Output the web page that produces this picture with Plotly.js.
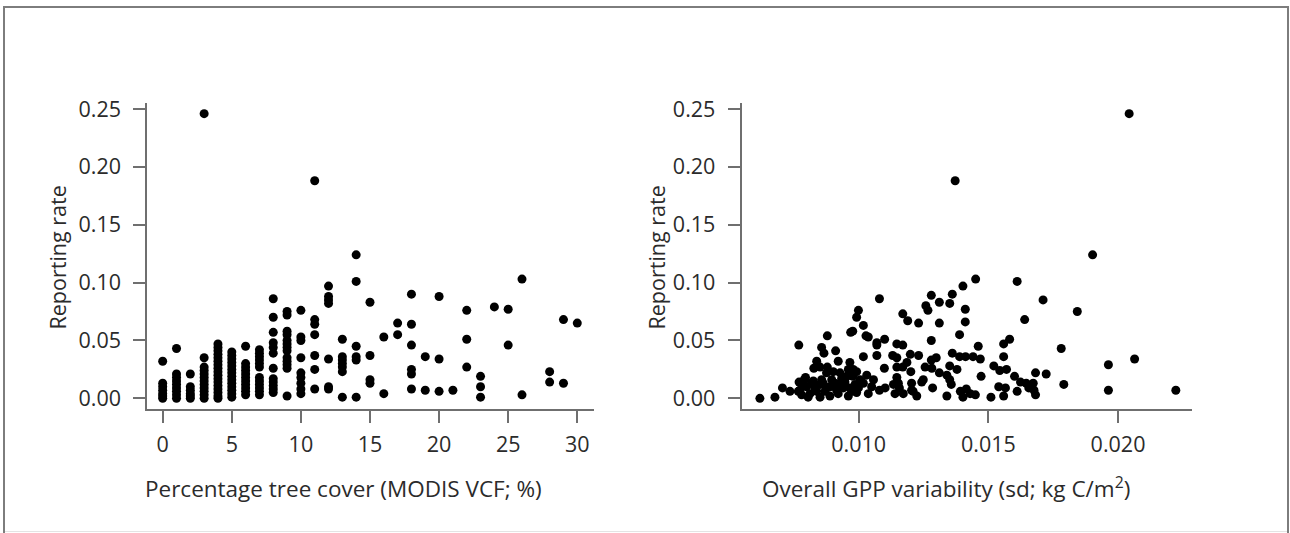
<!DOCTYPE html>
<html>
<head>
<meta charset="utf-8">
<script src="https://cdn.plot.ly/plotly-3.0.1.min.js"></script>
<style>
  html, body { margin: 0; padding: 0; background: #ffffff; overflow: hidden; }
  #wrap { position: relative; width: 1290px; height: 533px; }
  #chart { position: absolute; left: 0; top: 0; width: 1290px; height: 533px; }
  #frame { position: absolute; left: 3px; top: 6px; width: 1282px; height: 560px;
           border: 2px solid #7d7d7d; border-bottom: none; pointer-events: none; }
  #foot { position: absolute; left: 5px; top: 531px; width: 1282px; height: 1px;
          background: #e4e4e4; pointer-events: none; }
</style>
</head>
<body>
<div id="wrap">
  <div id="chart"></div>
  <div id="frame"></div>
  <div id="foot"></div>
</div>
<script>
// ---- Panel A: percentage tree cover vs reporting rate ----
const treeCover = [
  0,0,0,0,0,0,0,
  1,1,1,1,1,1,1,1,1,
  2,2,2,2,2,2,
  3,3,3,3,3,3,3,3,3,3,3,3,
  4,4,4,4,4,4,4,4,4,4,4,4,4,4,4,4,4,
  5,5,5,5,5,5,5,5,5,5,5,5,5,5,
  6,6,6,6,6,6,6,6,6,6,6,
  7,7,7,7,7,7,7,7,7,7,7,7,
  8,8,8,8,8,8,8,8,8,8,8,8,
  9,9,9,9,9,9,9,9,9,9,9,9,9,
  10,10,10,10,10,10,10,10,10,
  11,11,11,11,11,11,11,
  12,12,12,12,12,12,12,
  13,13,13,13,13,13,13,
  14,14,14,14,14,14,
  15,15,15,15,
  16,16,
  17,17,
  18,18,18,18,18,18,
  19,19,
  20,20,20,
  21,
  22,22,22,
  23,23,23,
  24,
  25,25,
  26,26,
  28,28,
  29,29,
  30
];
const rateTree = [
  0.032,0.013,0.010,0.007,0.004,0.002,0.000,
  0.043,0.021,0.018,0.015,0.012,0.009,0.006,0.003,0.000,
  0.021,0.010,0.007,0.004,0.002,0.000,
  0.246,0.035,0.027,0.024,0.021,0.018,0.015,0.012,0.009,0.006,0.003,0.000,
  0.047,0.044,0.041,0.038,0.035,0.032,0.029,0.026,0.023,0.020,0.017,0.014,0.011,0.008,0.005,0.002,0.000,
  0.040,0.037,0.034,0.031,0.028,0.025,0.022,0.019,0.016,0.013,0.010,0.007,0.004,0.001,
  0.045,0.030,0.027,0.024,0.021,0.018,0.015,0.012,0.009,0.006,0.003,
  0.042,0.039,0.036,0.033,0.030,0.027,0.018,0.015,0.012,0.009,0.006,0.003,
  0.086,0.070,0.057,0.048,0.044,0.039,0.026,0.017,0.014,0.011,0.008,0.005,
  0.075,0.072,0.058,0.055,0.050,0.047,0.044,0.041,0.035,0.032,0.029,0.026,0.002,
  0.076,0.053,0.050,0.035,0.022,0.018,0.013,0.008,0.004,
  0.188,0.068,0.064,0.055,0.037,0.025,0.008,
  0.097,0.088,0.085,0.082,0.034,0.010,0.008,
  0.051,0.036,0.033,0.030,0.027,0.023,0.001,
  0.124,0.101,0.045,0.036,0.033,0.001,
  0.083,0.037,0.016,0.013,
  0.053,0.004,
  0.065,0.055,
  0.090,0.064,0.046,0.025,0.021,0.008,
  0.036,0.007,
  0.088,0.034,0.006,
  0.007,
  0.076,0.051,0.027,
  0.019,0.010,0.001,
  0.079,
  0.077,0.046,
  0.103,0.003,
  0.023,0.014,
  0.068,0.013,
  0.065
];

// ---- Panel B: overall GPP variability vs reporting rate ----
const gppSd = [
  0.02043,0.01372,0.01902,0.01451,0.01611,0.01402,0.01080,0.01711,0.01361,0.01280,
  0.01311,0.01351,0.01259,0.01267,0.01411,0.00999,0.00992,0.01843,0.01170,0.01189,
  0.01231,0.01311,0.01411,0.01640,0.01018,0.00969,0.00977,0.01028,0.01037,0.00879,
  0.01389,0.01100,0.01070,0.01070,0.01280,0.01582,0.01559,0.00769,0.00857,0.01147,
  0.01170,0.01461,0.01781,0.00911,0.00866,0.01018,0.01070,0.01131,0.01147,0.01199,
  0.01231,0.01280,0.01299,0.01361,0.01389,0.01412,0.01441,0.01469,0.01559,0.02064,
  0.00838,0.00851,0.00879,0.00921,0.00966,0.00960,0.00992,0.00876,0.00827,0.01099,
  0.01147,0.01186,0.01170,0.01201,0.01256,0.01282,0.01311,0.01351,0.01379,0.01521,
  0.01544,0.01570,0.01963,0.00795,0.00770,0.00790,0.00825,0.00857,0.00896,0.00934,
  0.00954,0.00977,0.01031,0.01057,0.01147,0.01340,0.01351,0.01472,0.01357,0.01601,
  0.01682,0.01723,0.01646,0.01673,0.01624,0.01791,0.00706,0.00735,0.00619,0.00677,
  0.00773,0.00780,0.00799,0.00812,0.00831,0.00851,0.00851,0.00870,0.00889,0.00889,
  0.00915,0.00928,0.00960,0.00966,0.00986,0.00992,0.01018,0.01037,0.01050,0.01080,
  0.01102,0.01140,0.01153,0.01172,0.01157,0.01204,0.01210,0.01224,0.01243,0.01285,
  0.01340,0.01392,0.01402,0.01415,0.01430,0.01450,0.01510,0.01540,0.01559,0.01566,
  0.01611,0.01656,0.01682,0.01676,0.01963,0.02223,0.00767,0.00786,0.00805,0.00818,
  0.00838,0.00863,0.00876,0.00908,0.00921,0.00941,0.00947,0.00973,0.00999,0.01005,
  0.00928,0.00902,0.00979,0.01134,0.01204,0.01249
];
const rateGpp = [
  0.246,0.188,0.124,0.103,0.101,0.097,0.086,0.085,0.090,0.089,
  0.083,0.082,0.080,0.076,0.077,0.076,0.070,0.075,0.073,0.067,
  0.065,0.065,0.066,0.068,0.063,0.057,0.058,0.054,0.053,0.054,
  0.055,0.051,0.048,0.046,0.050,0.051,0.047,0.046,0.044,0.047,
  0.046,0.045,0.043,0.041,0.039,0.036,0.037,0.037,0.035,0.038,
  0.037,0.033,0.035,0.039,0.036,0.036,0.036,0.034,0.036,0.034,
  0.032,0.027,0.027,0.032,0.031,0.025,0.023,0.022,0.026,0.026,
  0.027,0.031,0.027,0.023,0.027,0.026,0.022,0.028,0.025,0.028,
  0.024,0.025,0.029,0.018,0.014,0.016,0.015,0.016,0.016,0.017,
  0.019,0.019,0.020,0.016,0.018,0.020,0.016,0.019,0.012,0.019,
  0.022,0.021,0.013,0.013,0.014,0.012,0.009,0.006,0.000,0.001,
  0.007,0.003,0.010,0.004,0.009,0.001,0.012,0.006,0.010,0.002,
  0.007,0.012,0.002,0.009,0.012,0.005,0.013,0.004,0.010,0.007,
  0.009,0.004,0.013,0.004,0.009,0.013,0.006,0.002,0.014,0.009,
  0.002,0.006,0.001,0.008,0.004,0.003,0.001,0.010,0.002,0.009,
  0.006,0.009,0.003,0.007,0.007,0.007,0.006,0.012,0.001,0.013,
  0.006,0.013,0.009,0.013,0.004,0.009,0.014,0.006,0.009,0.016,
  0.022,0.023,0.025,0.012,0.007,0.016
];

// ---- Axis ticks and labels ----
const rateTicks = [0, 0.05, 0.10, 0.15, 0.20, 0.25];
const treeTicks = [0, 5, 10, 15, 20, 25, 30];
const gppTicks = [0.010, 0.015, 0.020];
const yLabel = 'Reporting rate';
const xLabelA = 'Percentage tree cover (MODIS VCF; %)';
const xLabelB = 'Overall GPP variability (sd; kg C/m<sup>2</sup>)';

const W = 1290, H = 533;
const px = v => v / W;          // pixel x -> paper
const py = v => (H - v) / H;    // pixel y -> paper

const FONT = 'Open Sans, Noto Sans, sans-serif';
const TXT = '#2b2b2b';
const AX = '#6f6f6f';

const marker = { color: '#000000', size: 9, symbol: 'circle', line: { width: 0 } };

const traces = [
  { type: 'scatter', mode: 'markers', x: treeCover, y: rateTree,
    xaxis: 'x', yaxis: 'y', marker: marker, hoverinfo: 'x+y', showlegend: false },
  { type: 'scatter', mode: 'markers', x: gppSd, y: rateGpp,
    xaxis: 'x2', yaxis: 'y2', marker: marker, hoverinfo: 'x+y', showlegend: false }
];

const axisCommon = {
  showline: true, linecolor: AX, linewidth: 2,
  ticks: 'outside', ticklen: 12, tickwidth: 2, tickcolor: AX,
  showgrid: false, zeroline: false, fixedrange: true,
  tickfont: { family: FONT, size: 21.5, color: TXT }
};

const yRange = [-0.00881, 0.25493];

const layout = {
  width: W, height: H,
  margin: { l: 0, r: 0, t: 0, b: 0, pad: 0 },
  paper_bgcolor: '#ffffff', plot_bgcolor: '#ffffff',
  font: { family: FONT, size: 21, color: TXT },
  showlegend: false,
  xaxis: Object.assign({}, axisCommon, {
    domain: [px(147.3), px(594)], range: [-1.114, 31.21],
    tickmode: 'array', tickvals: treeTicks, ticktext: treeTicks.map(String),
    anchor: 'y', ticklabelstandoff: 4
  }),
  yaxis: Object.assign({}, axisCommon, {
    domain: [py(408.5), py(103.3)], range: yRange,
    tickmode: 'array', tickvals: rateTicks, ticktext: rateTicks.map(v => v.toFixed(2)),
    anchor: 'x', ticklabelstandoff: 8
  }),
  xaxis2: Object.assign({}, axisCommon, {
    domain: [px(741.7), px(1192.3)], range: [0.005488, 0.022865],
    tickmode: 'array', tickvals: gppTicks, ticktext: gppTicks.map(v => v.toFixed(3)),
    anchor: 'y2', ticklabelstandoff: 4
  }),
  yaxis2: Object.assign({}, axisCommon, {
    domain: [py(408.5), py(103.3)], range: yRange,
    tickmode: 'array', tickvals: rateTicks, ticktext: rateTicks.map(v => v.toFixed(2)),
    anchor: 'x2', ticklabelstandoff: 8
  }),
  annotations: [
    { text: xLabelA, xref: 'paper', yref: 'paper', x: px(343.5), y: py(488),
      xanchor: 'center', yanchor: 'middle', showarrow: false,
      font: { family: FONT, size: 22.5, color: TXT } },
    { text: xLabelB, xref: 'paper', yref: 'paper', x: px(946), y: py(487),
      xanchor: 'center', yanchor: 'middle', showarrow: false,
      font: { family: FONT, size: 22.5, color: TXT } },
    { text: yLabel, xref: 'paper', yref: 'paper', x: px(57), y: py(257.5),
      xanchor: 'center', yanchor: 'middle', textangle: -90, showarrow: false,
      font: { family: FONT, size: 21.5, color: TXT } },
    { text: yLabel, xref: 'paper', yref: 'paper', x: px(656), y: py(257.5),
      xanchor: 'center', yanchor: 'middle', textangle: -90, showarrow: false,
      font: { family: FONT, size: 21.5, color: TXT } }
  ]
};

Plotly.newPlot('chart', traces, layout, { displayModeBar: false, staticPlot: true });
</script>
</body>
</html>
